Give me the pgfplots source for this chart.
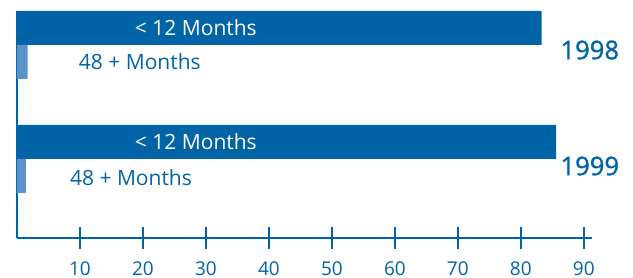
\documentclass[border=0pt]{standalone}
\usepackage{fontspec}
\setmainfont{Open Sans}
\newfontfamily\semib[FakeBold=1.2]{Open Sans}
\usepackage{pgfplots}
\pgfplotsset{compat=1.18}
\definecolor{dblue}{HTML}{0064A6}
\definecolor{lblue}{HTML}{5A93C9}
\begin{document}
\begin{tikzpicture}
\useasboundingbox (-8.5pt,-20.15pt) rectangle (308pt,118.85pt);
\begin{axis}[
  at={(0,0)}, anchor=south west,
  scale only axis, width=287.5pt, height=113.35pt,
  xmin=0, xmax=91.3, ymin=40.3, ymax=267,
  axis x line=bottom, axis y line=left,
  axis line style={dblue, line width=1.1pt, -},
  x axis line style={-},
  y axis line style={-},
  xtick={10,20,...,90}, ytick=\empty,
  tick align=center, major tick length=11pt,
  tick style={dblue, line width=1.1pt},
  xticklabel style={font=\fontsize{9.5}{10}\selectfont, text=dblue, anchor=center, inner sep=0pt, yshift=-9.8pt},
  /pgf/number format/assume math mode=true,
  clip=false,
  xbar, bar width=34, bar shift=0pt,
]
\addplot[fill=dblue, draw=none] coordinates {(83.3,250) (85.6,136)};
\addplot[fill=lblue, draw=none] coordinates {(1.7,216) (1.4,102)};
\node[text=white, font=\fontsize{10.5}{12}\selectfont] at (axis cs:28.4,250) {< 12 Months};
\node[text=white, font=\fontsize{10.5}{12}\selectfont] at (axis cs:28.4,136) {< 12 Months};
\node[text=dblue, font=\fontsize{10.5}{12}\selectfont] at (axis cs:19.5,216) {48 + Months};
\node[text=dblue, font=\fontsize{10.5}{12}\selectfont] at (axis cs:18.1,100) {48 + Months};
\node[text=dblue, font=\fontsize{12.8}{15}\semib] at (axis cs:90.95,228) {1998};
\node[text=dblue, font=\fontsize{12.8}{15}\semib] at (axis cs:90.95,112) {1999};
\end{axis}
\end{tikzpicture}
\end{document}
